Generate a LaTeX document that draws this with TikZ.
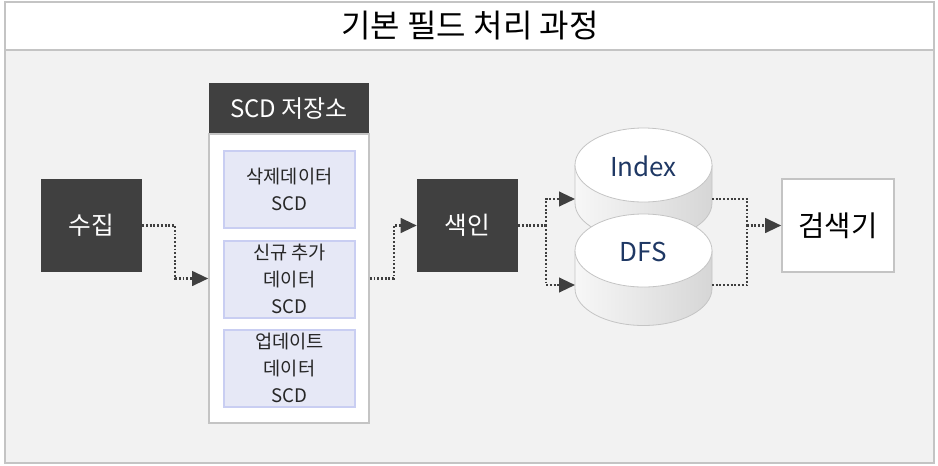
\documentclass[tikz,border=0pt]{standalone}
\usepackage{fontspec}
\setmainfont{Noto Sans CJK KR}
\usepackage{tikz}
\usetikzlibrary{arrows.meta,positioning}

\definecolor{framegray}{HTML}{C4C4C4}
\definecolor{bodygray}{HTML}{F2F2F2}
\definecolor{boxdark}{HTML}{404040}
\definecolor{lineclr}{HTML}{404040}
\definecolor{scdfill}{HTML}{E6E8F6}
\definecolor{scdline}{HTML}{C9CEF2}
\definecolor{dbtext}{HTML}{1F3864}
\definecolor{cylleft}{HTML}{F7F7F7}
\definecolor{cylright}{HTML}{D6D6D6}

\newlength\unitpx
\setlength\unitpx{0.75pt}

\tikzset{
  darkbox/.style={fill=boxdark, text=white, inner sep=0pt,
    minimum width=101\unitpx, minimum height=93\unitpx, font=\fontsize{18.5}{22}\selectfont},
  scditem/.style={fill=scdfill, draw=scdline, line width=1.5pt, text=black!85, align=center,
    inner sep=0pt, minimum width=131\unitpx, minimum height=77\unitpx,
    font=\fontsize{14}{20}\selectfont},
  dotline/.style={draw=lineclr, line width=1.6pt, dash pattern=on 1.4pt off 1.4pt},
  flow/.style={dotline, -{Triangle[length=12pt,width=11pt]}},
  cylline/.style={draw=framegray, line width=0.6pt},
  dblabel/.style={text=dbtext, font=\fontsize{19.5}{22}\selectfont},
}

\begin{document}
\begin{tikzpicture}[x=0.75pt,y=0.75pt,yscale=-1,xscale=1]
\useasboundingbox (0,0) rectangle (938,465);

%Shape: Rectangle (frame and title band)
\draw[framegray, line width=1.5pt, fill=bodygray] (5,2) rectangle (934,463);
\draw[framegray, line width=1.5pt, fill=white] (5,2) rectangle (934,50);

% Text Node
\node[font=\fontsize{24}{28}\selectfont] (title) at (470,26) {기본 필드 처리 과정};

%Shape: Rectangle
\node[darkbox] (sujib) at (91.5,225.5) {수집};

%Shape: Rectangle (SCD store)
\node[darkbox, minimum width=160\unitpx, minimum height=51\unitpx,
  font=\fontsize{18}{20}\selectfont] (scdhead) at (289,108.5) {SCD 저장소};
\node[fill=white, draw=framegray, line width=1.2pt, inner sep=0pt,
  minimum width=160\unitpx, minimum height=289\unitpx] (scdbody) at (289,278.5) {};
\node[scditem] (delscd) at (289.5,189.5) {삭제데이터\\SCD};
\node[scditem] (newscd) at (289.5,279) {신규 추가\\데이터\\SCD};
\node[scditem] (updscd) at (289.5,368) {업데이트\\데이터\\SCD};

%Shape: Rectangle
\node[darkbox] (saekin) at (467.5,225.5) {색인};

%Shape: Can
\shade[left color=cylleft, right color=cylright] (575,165) -- (575,203)
  arc[start angle=180, end angle=0, x radius=68.5, y radius=37] -- (712,165) -- cycle;
\draw[cylline] (575,165) -- (575,203)
  arc[start angle=180, end angle=0, x radius=68.5, y radius=37] -- (712,165);
\draw[cylline, fill=white] (643.5,165) ellipse [x radius=68.5, y radius=37];
\node[dblabel] (index) at (643.5,166) {Index};

%Shape: Can
\shade[left color=cylleft, right color=cylright] (575,250.5) -- (575,288.5)
  arc[start angle=180, end angle=0, x radius=68.5, y radius=37] -- (712,250.5) -- cycle;
\draw[cylline] (575,250.5) -- (575,288.5)
  arc[start angle=180, end angle=0, x radius=68.5, y radius=37] -- (712,250.5);
\draw[cylline, fill=white] (643.5,250.5) ellipse [x radius=68.5, y radius=36.5];
\node[dblabel] (dfs) at (643.5,252) {DFS};

%Shape: Rectangle
\node[fill=white, draw=framegray, line width=1.2pt, inner sep=0pt,
  minimum width=112\unitpx, minimum height=93\unitpx,
  font=\fontsize{21.5}{24}\selectfont] (geomsaek) at (838,225.5) {검색기};

% Connectors
\coordinate (split) at (546,225.5);
\coordinate (idxin) at (575,199);
\coordinate (dfsin) at (575,285);
\coordinate (idxout) at (712,199);
\coordinate (dfsout) at (712,285);
\coordinate (join) at (747,225.5);

\draw[flow] (sujib.east) -- ++(33,0) |- (scdbody.west);
\draw[flow] (scdbody.east) -- ++(24,0) |- (saekin.west);
\draw[dotline] (saekin.east) -- (split);
\draw[flow] (split) |- (idxin);
\draw[flow] (split) |- (dfsin);
\draw[dotline] (idxout) -| (join);
\draw[dotline] (dfsout) -| (join);
\draw[flow] (join) -- (geomsaek.west);

\end{tikzpicture}
\end{document}
